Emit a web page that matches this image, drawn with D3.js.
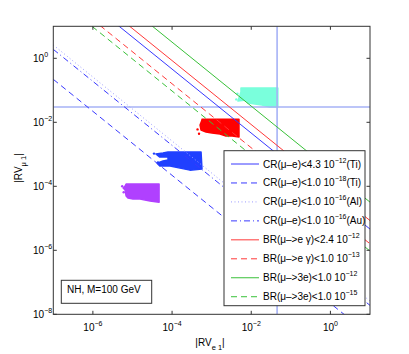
<!DOCTYPE html>
<html>
<head>
<meta charset="utf-8">
<script src="https://cdn.jsdelivr.net/npm/d3@7"></script>
<style>
  body { margin: 0; background: #fff; }
  text { font-family: "Liberation Sans", Arial, sans-serif; fill: #000; }
</style>
</head>
<body>
<div id="chart"></div>
<script>
// constraint lines: |RVe1| * |RVmu1| = const
var lineConst = [4.6e-5, 2.2e-8, 2.6e-7, 1.9e-7, 8.5e-5, 1.6e-5, 3.2e-4, 9.5e-6];
var lineColor = ["#3838ff", "#3838ff", "#9c9cff", "#3838ff", "#ff3838", "#ff3838", "#38c038", "#38c038"];
var lineDash  = [null, "6,4", "1,2.5", "6,3,1,3", null, "6,4", null, "6,4"];
var legendPre  = ["CR(\u03bc\u2013e)<4.3 10", "CR(\u03bc\u2013e)<1.0 10", "CR(\u03bc\u2013e)<1.0 10", "CR(\u03bc\u2013e)<1.0 10",
                  "BR(\u03bc\u2013>e \u03b3)<2.4 10", "BR(\u03bc\u2013>e \u03b3)<1.0 10", "BR(\u03bc\u2013>3e)<1.0 10", "BR(\u03bc\u2013>3e)<1.0 10"];
var legendSup  = ["\u221212", "\u221218", "\u221216", "\u221216", "\u221212", "\u221213", "\u221212", "\u221215"];
var legendPost = ["(Ti)", "(Ti)", "(Al)", "(Au)", "", "", "", ""];

// reference lines
var refX = 0.045, refY = 0.030;

// scatter clouds, outlines [RVe1, RVmu1]
var cyanCloud = [[5.5e-3,0.118],[4.7e-2,0.118],[4.7e-2,0.030],[2.96e-2,0.030],[1.86e-2,0.0347],[1.24e-2,0.0373],
                 [8.3e-3,0.0401],[7.3e-3,0.0498],[4.6e-3,0.0463],[5.2e-3,0.0713],[5.5e-3,0.0885]];
var redCloud = [[5.7e-4,0.0124],[4.9e-3,0.0124],[4.9e-3,3.5e-3],[3.3e-3,3.7e-3],[2.3e-3,3.7e-3],[1.62e-3,4.3e-3],
                [1.02e-3,4.6e-3],[7.2e-4,5.0e-3],[5.4e-4,5.7e-3],[5.1e-4,8.2e-3],[5.7e-4,0.0118]];
var blueCloud = [[7.9e-5,1.18e-3],[5.4e-4,1.18e-3],[5.7e-4,3.5e-4],[2.83e-4,3.2e-4],[1.58e-4,3.7e-4],[8.9e-5,4.3e-4],
                 [4.9e-5,4.3e-4],[4.2e-5,5.3e-4],[5.9e-5,6.2e-4],[7.9e-5,6.6e-4],[7.9e-5,8.2e-4],[4.9e-5,8.2e-4],
                 [3.9e-5,1.02e-3],[5.9e-5,1.1e-3]];
var purpleCloud = [[6.9e-6,1.18e-4],[4.7e-5,1.18e-4],[4.7e-5,3.2e-5],[2.77e-5,3.5e-5],[2.07e-5,3.7e-5],[1.55e-5,4.0e-5],
                   [1.03e-5,4.0e-5],[7.7e-6,4.3e-5],[6.9e-6,5.0e-5],[6.5e-6,7.7e-5],[5.8e-6,8.9e-5],[6.5e-6,1.02e-4]];
var cloudStray = [[4.2e-3,0.052,"#7affdc"],[4.5e-3,0.078,"#7affdc"],[4.4e-4,6.0e-3,"#ff0000"],[4.8e-4,4.4e-3,"#ff0000"],
                  [3.5e-5,1.05e-3,"#2040ff"],[4.4e-5,5.6e-4,"#2040ff"],[5.5e-6,1.0e-4,"#b040ff"],[6.0e-6,6.5e-5,"#b040ff"]];

var xTicks = [1e-6, 1e-4, 1e-2, 1e0];
var xTickExp = ["\u22126", "\u22124", "\u22122", "0"];
var yTicks = [1e0, 1e-2, 1e-4, 1e-6, 1e-8];
var yTickExp = ["0", "\u22122", "\u22124", "\u22126", "\u22128"];

var W = 409, H = 354;
var L = 53.3, R = 370, T = 26.3, B = 314.3;

var svg = d3.select("#chart").append("svg").attr("width", W).attr("height", H);

var x = d3.scaleLog().domain([1e-7, 1e1]).range([L, R]);
var y = d3.scaleLog().domain([1e-8, 1e1]).range([B, T]);

svg.append("clipPath").attr("id", "clip")
  .append("rect").attr("x", L).attr("y", T).attr("width", R - L).attr("height", B - T);

var plot = svg.append("g").attr("clip-path", "url(#clip)");

// clouds
var area = d3.line().x(function(d) { return x(d[0]); }).y(function(d) { return y(d[1]); }).curve(d3.curveLinearClosed);
[[cyanCloud, "#7affdc"], [redCloud, "#ff0000"], [blueCloud, "#2040ff"], [purpleCloud, "#b040ff"]].forEach(function(c) {
  plot.append("path").attr("d", area(c[0])).attr("fill", c[1]).attr("stroke", c[1]).attr("stroke-width", 1.5)
    .attr("stroke-linejoin", "round");
});
plot.selectAll(".stray").data(cloudStray).enter().append("circle")
  .attr("cx", function(d) { return x(d[0]); }).attr("cy", function(d) { return y(d[1]); })
  .attr("r", 1.2).attr("fill", function(d) { return d[2]; });

// reference lines
plot.append("line").attr("x1", x(refX)).attr("x2", x(refX)).attr("y1", T).attr("y2", B)
  .attr("stroke", "#a6b2f6").attr("stroke-width", 1.6);
plot.append("line").attr("x1", L).attr("x2", R).attr("y1", y(refY)).attr("y2", y(refY))
  .attr("stroke", "#a6b2f6").attr("stroke-width", 1.6);

// constraint lines
var xd = x.domain();
lineConst.forEach(function(c, i) {
  plot.append("line")
    .attr("x1", x(xd[0])).attr("y1", y(c / xd[0]))
    .attr("x2", x(xd[1])).attr("y2", y(c / xd[1]))
    .attr("stroke", lineColor[i]).attr("stroke-width", 1)
    .attr("stroke-dasharray", lineDash[i]);
});

// frame
svg.append("rect").attr("x", L).attr("y", T).attr("width", R - L).attr("height", B - T)
  .attr("fill", "none").attr("stroke", "#333").attr("stroke-width", 1);

// ticks
xTicks.forEach(function(t, i) {
  var px = x(t);
  svg.append("line").attr("x1", px).attr("x2", px).attr("y1", B).attr("y2", B - 3.5).attr("stroke", "#333");
  svg.append("line").attr("x1", px).attr("x2", px).attr("y1", T).attr("y2", T + 3.5).attr("stroke", "#333");
  var tx = svg.append("text").attr("x", px).attr("y", 331).attr("text-anchor", "middle").style("font-size", "10px");
  tx.append("tspan").text("10");
  tx.append("tspan").attr("dy", -5).style("font-size", "7px").text(xTickExp[i]);
});
yTicks.forEach(function(t, i) {
  var py = y(t);
  svg.append("line").attr("x1", L).attr("x2", L + 3.5).attr("y1", py).attr("y2", py).attr("stroke", "#333");
  svg.append("line").attr("x1", R).attr("x2", R - 3.5).attr("y1", py).attr("y2", py).attr("stroke", "#333");
  var ty = svg.append("text").attr("x", 33).attr("y", py + 4).style("font-size", "10px");
  ty.append("tspan").text("10");
  ty.append("tspan").attr("dy", -5).style("font-size", "7px").text(yTickExp[i]);
});

// axis labels
var xl = svg.append("text").attr("x", 210).attr("y", 346).attr("text-anchor", "middle").style("font-size", "10px");
xl.append("tspan").text("|RV");
xl.append("tspan").attr("dy", 4).style("font-size", "7.5px").text("e 1");
xl.append("tspan").attr("dy", -4).text("|");

var yl = svg.append("text").attr("transform", "translate(21.7,168) rotate(-90)").attr("text-anchor", "middle")
  .style("font-size", "10px");
yl.append("tspan").text("|RV");
yl.append("tspan").attr("dy", 4).style("font-size", "7.5px").text("\u03bc 1");
yl.append("tspan").attr("dy", -4).text("|");

// legend
var lg = svg.append("g");
lg.append("rect").attr("x", 224).attr("y", 150.7).attr("width", 141).attr("height", 155)
  .attr("fill", "#fff").attr("stroke", "#333").attr("stroke-width", 1);
legendPre.forEach(function(p, i) {
  var ly = 164 + i * 18.96;
  lg.append("line").attr("x1", 231).attr("x2", 259).attr("y1", ly).attr("y2", ly)
    .attr("stroke", lineColor[i]).attr("stroke-width", 1).attr("stroke-dasharray", lineDash[i]);
  var t = lg.append("text").attr("x", 263).attr("y", ly + 3.5).style("font-size", "10px");
  t.append("tspan").text(p);
  t.append("tspan").attr("dy", -5).style("font-size", "7px").text(legendSup[i]);
  if (legendPost[i]) t.append("tspan").attr("dy", 5).text(legendPost[i]);
});

// note box
svg.append("rect").attr("x", 61.3).attr("y", 280.3).attr("width", 90.4).attr("height", 23)
  .attr("fill", "#fff").attr("stroke", "#333").attr("stroke-width", 1);
svg.append("text").attr("x", 67).attr("y", 292.7).style("font-size", "10px").text("NH, M=100 GeV");
</script>
</body>
</html>
